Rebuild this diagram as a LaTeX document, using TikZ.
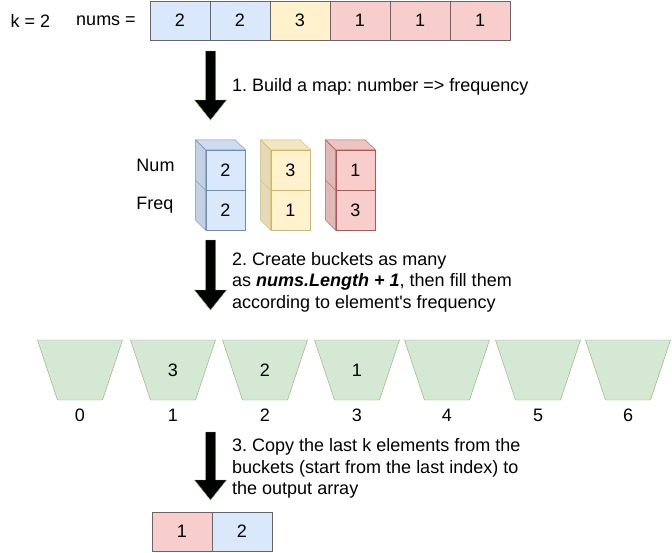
\documentclass[tikz,border=0pt]{standalone}
\usepackage{fontspec}
\setmainfont{Liberation Sans}
\usetikzlibrary{calc}

\definecolor{blueF}{HTML}{DAE8FC}  \definecolor{blueD}{HTML}{6C8EBF}
\definecolor{yellowF}{HTML}{FFF2CC}\definecolor{yellowD}{HTML}{D6B656}
\definecolor{redF}{HTML}{F8CECC}   \definecolor{redD}{HTML}{B85450}
\definecolor{greenF}{HTML}{D5E8D4} \definecolor{greenD}{HTML}{82B366}
\definecolor{cellD}{HTML}{666666}

\tikzset{
	cell/.style={draw=cellD,minimum width=60pt,minimum height=39pt,inner sep=0pt},
	cube/.style={minimum width=39.5pt,minimum height=40pt,inner sep=0pt},
	bucket/.style={draw=greenD,fill=greenF},
	bigarrow/.style={draw=greenD,fill=black},
	txt/.style={anchor=west,align=left,inner sep=0pt}
}

\begin{document}
\frenchspacing
\begin{tikzpicture}[x=1pt,y=-1pt,font=\fontsize{18}{21.5}\selectfont]
	\useasboundingbox (0,0) rectangle (672,552);
	
	%INPUT ARRAY
	\node (k) at (30.5,20.5) {k = 2};
	\node (nums) at (106,20.5) {nums =};
	\foreach \i/\col/\v in {1/blue/2,2/blue/2,3/yellow/3,4/red/1,5/red/1,6/red/1}{
		\node[cell,fill=\col F] (n\i) at (120+60*\i,20.5) {\v};
	}
	
	%MAP AS CUBES
	\node (numlbl) at (155.5,165) {Num};
	\node (freqlbl) at (155,205) {Freq};
	\foreach \i/\x/\col/\n/\f in {1/225.5/blue/2/2,2/290.5/yellow/3/1,3/355.5/red/1/3}{
		\node[cube,draw=\col D,fill=\col F] (num\i) at (\x,170) {\n};
		\node[cube,draw=\col D,fill=\col F] (freq\i) at (\x,210) {\f};
		\draw[\col D,fill=\col F!90!black] (num\i.north west) -- ++(-10,-10) -- ($(freq\i.south west)+(-10,-10)$) -- (freq\i.south west) -- cycle;
		\draw[\col D,fill=\col F!95!black] (num\i.north west) -- ++(-10,-10) -- ++(39.5,0) -- (num\i.north east) -- cycle;
		\draw[\col D] ($(num\i.south west)+(-10,-10)$) -- (num\i.south west);
	}
	
	%BUCKETS
	\foreach \i/\x/\v in {0/80/,1/173/3,2/265/2,3/357/1,4/447/,5/538/,6/628/}{
		\draw[bucket] (\x-42.5,340) -- (\x+42.5,340) -- (\x+22.5,400) -- (\x-22.5,400) -- cycle;
		\node (b\i) at (\x,370) {\v};
		\node (idx\i) at (\x,415) {\i};
	}
	
	%OUTPUT ARRAY
	\node[cell,fill=redF] (o1) at (182,531.7) {1};
	\node[cell,fill=blueF] (o2) at (242,531.7) {2};
	
	%BIG ARROWS
	\foreach \a/\b in {51/120,240/310,432/500}{
		\draw[bigarrow] (205.5,\a) -- (215.5,\a) -- (215.5,\b-20) -- (226.5,\b-20) -- (210.5,\b) -- (194.5,\b-20) -- (205.5,\b-20) -- cycle;
	}
	
	%STEPS
	\node[txt] (s1) at (232,87) {1. Build a map: number => frequency};
	\node[txt] (s2) at (232,282) {2. Create buckets as many\\as \textbf{\textit{nums.Length + 1}}, then fill them\\according to element\textquotesingle s frequency};
	\node[txt] (s3) at (232,468.5) {3. Copy the last k elements from the\\buckets (start from the last index) to\\the output array};
\end{tikzpicture}
\end{document}
